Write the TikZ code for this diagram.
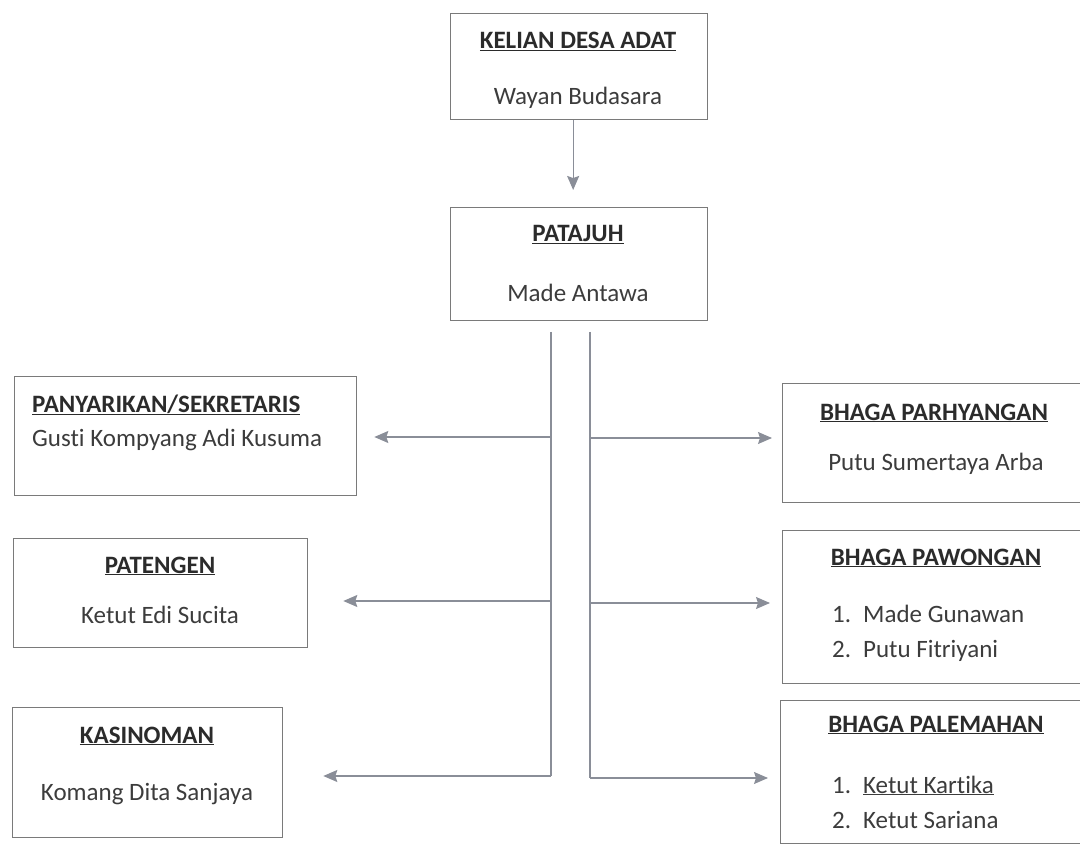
\documentclass[tikz,border=0pt]{standalone}
\usepackage{fontspec}
\setmainfont{Carlito}[Ligatures=NoCommon]
\usetikzlibrary{arrows.meta}
\definecolor{boxc}{HTML}{7A7A7A}
\definecolor{linec}{HTML}{8A8E98}
\definecolor{hdc}{HTML}{2B2B2B}
\definecolor{txc}{HTML}{3C3C3C}
\begin{document}
\begin{tikzpicture}[x=1pt,y=-1pt,
  box/.style={draw=boxc, line width=1.3pt, inner sep=0pt, anchor=north west},
  hd/.style={font=\fontsize{25}{30}\selectfont\bfseries, text=hdc, inner sep=0pt, anchor=base},
  nm/.style={font=\fontsize{25}{30}\selectfont, text=txc, inner sep=0pt, anchor=base},
  ln/.style={draw=linec, line width=1.3pt},
  arr/.style={ln, -{Stealth[length=14pt,width=12pt,inset=2pt]}}]
\useasboundingbox (0,0) rectangle (1080,845);
\clip (0,0) rectangle (1080,845);
% boxes
\node[box, minimum width=257pt, minimum height=106pt] (kelian) at (450,13) {};
\node[box, minimum width=257pt, minimum height=113pt] (patajuh) at (450,207) {};
\node[box, minimum width=342pt, minimum height=119pt] (pany) at (14,376) {};
\node[box, minimum width=294pt, minimum height=109pt] (pateng) at (13,538) {};
\node[box, minimum width=270pt, minimum height=130pt] (kasin) at (12,707) {};
\node[box, minimum width=310pt, minimum height=119pt] (parh) at (782,383) {};
\node[box, minimum width=310pt, minimum height=153pt] (pawo) at (782,530) {};
\node[box, minimum width=310pt, minimum height=143pt] (palem) at (780,700) {};
% texts
\node[hd] (kelianH) at (578,49) {\underline{KELIAN DESA ADAT}};
\node[nm] (kelianN) at (578,105) {Wayan Budasara};
\node[hd] (patajuhH) at (578,242) {\underline{PATAJUH}};
\node[nm] (patajuhN) at (578,302) {Made Antawa};
\node[hd, anchor=base west] (panyH) at (32,412) {\underline{PANYARIKAN/SEKRETARIS}};
\node[nm, anchor=base west] (panyN) at (32,446) {Gusti Kompyang Adi Kusuma};
\node[hd] (patengH) at (160,573) {\underline{PATENGEN}};
\node[nm] (patengN) at (160,623) {Ketut Edi Sucita};
\node[hd] (kasinH) at (147,743) {\underline{KASINOMAN}};
\node[nm] (kasinN) at (147,800) {Komang Dita Sanjaya};
\node[hd] (parhH) at (934,420) {\underline{BHAGA PARHYANGAN}};
\node[nm] (parhN) at (936,470) {Putu Sumertaya Arba};
\node[hd] (pawoH) at (936,565) {\underline{BHAGA PAWONGAN}};
\node[nm, anchor=base west] (pawo1) at (832,622) {1.\hspace{12pt}Made Gunawan};
\node[nm, anchor=base west] (pawo2) at (832,657) {2.\hspace{12pt}Putu Fitriyani};
\node[hd] (palemH) at (936,732) {\underline{BHAGA PALEMAHAN}};
\node[nm, anchor=base west] (palem1) at (832,793) {1.\hspace{12pt}\underline{Ketut Kartika}};
\node[nm, anchor=base west] (palem2) at (832,828) {2.\hspace{12pt}Ketut Sariana};
% connectors
\draw[arr, shorten >=17pt] ([xshift=-6pt]kelian.south) -- ([xshift=-6pt]kelian.south |- patajuh.north);
\coordinate (lt) at (551,332);
\coordinate (l1) at (551,437);
\coordinate (l2) at (551,601);
\coordinate (lb) at (551,776);
\coordinate (rt) at (590,332);
\coordinate (r1) at (590,438);
\coordinate (r2) at (590,603);
\coordinate (rb) at (590,778);
\draw[ln] (lt) -- (lb);
\draw[ln] (rt) -- (rb);
\draw[arr, shorten >=17pt] (l1) -- (l1 -| pany.east);
\draw[arr, shorten >=35pt] (l2) -- (l2 -| pateng.east);
\draw[arr, shorten >=40pt] (lb) -- (lb -| kasin.east);
\draw[arr, shorten >=10pt] (r1) -- (r1 -| parh.west);
\draw[arr, shorten >=12pt] (r2) -- (r2 -| pawo.west);
\draw[arr, shorten >=12pt] (rb) -- (rb -| palem.west);
\end{tikzpicture}
\end{document}
